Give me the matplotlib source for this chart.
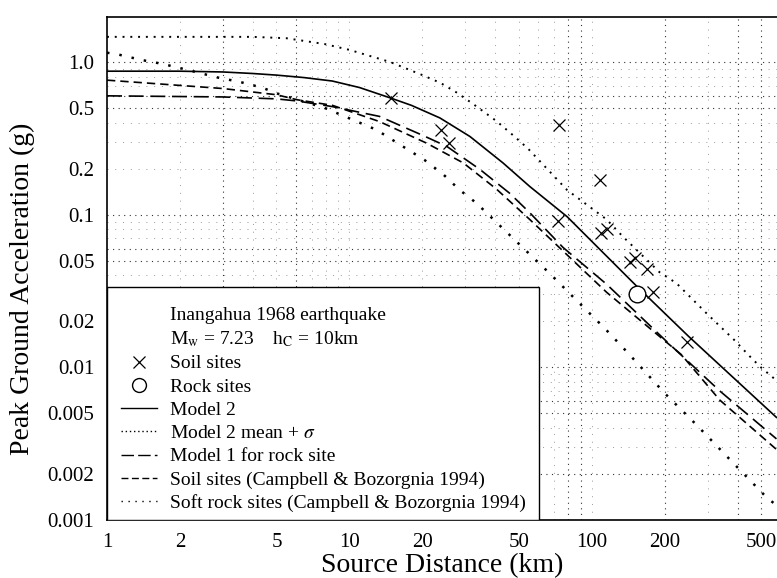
import numpy as np
import matplotlib.pyplot as plt
from matplotlib.lines import Line2D
from matplotlib.patches import Rectangle

plt.rcParams['font.family'] = ['Liberation Serif', 'DejaVu Serif']
plt.rcParams['mathtext.fontset'] = 'stix'

# observed PGA, Inangahua 1968
soil_x = [14.9, 23.8, 25.7, 73.3, 108, 72.6, 109, 115.5, 143.5, 150, 168, 178, 246]
soil_y = [0.58, 0.36, 0.295, 0.387, 0.169, 0.091, 0.076, 0.08, 0.049, 0.052, 0.044, 0.031, 0.0147]
rock_obs_x = [153]
rock_obs_y = [0.030]

# Model 2
m2_x = [1, 2, 3, 4, 5, 6.5, 8.5, 11, 14.9, 18, 23.6, 31.4, 43, 55.4, 79, 153, 250, 577]
m2_y = [0.87, 0.87, 0.86, 0.84, 0.82, 0.79, 0.75, 0.68, 0.578, 0.52, 0.43, 0.325, 0.218,
        0.153, 0.097, 0.034, 0.0160, 0.0047]

# Model 2 mean + sigma
sig_x = [1, 4, 5.5, 7.9, 10, 14.7, 20, 23.7, 27.7, 32.4, 40.4, 47.4, 54.6, 79, 115, 134,
         190, 223, 296, 385, 448, 494, 577]
sig_y = [1.46, 1.46, 1.43, 1.31, 1.2, 1.0, 0.82, 0.73, 0.63, 0.53, 0.41, 0.33, 0.27, 0.145,
         0.093, 0.072, 0.042, 0.0356, 0.0227, 0.0152, 0.0118, 0.0101, 0.0082]

# Model 1, rock site
m1_x = [1, 3, 5, 6.1, 8.5, 13.3, 20.1, 25.2, 34.5, 45.8, 55.4, 76, 115, 203, 337, 577]
m1_y = [0.60, 0.59, 0.573, 0.555, 0.51, 0.44, 0.33, 0.28, 0.198, 0.138, 0.103, 0.061,
        0.035, 0.0148, 0.0070, 0.0034]

# Campbell & Bozorgnia 1994, soil
cbs_x = [1, 3, 5, 6.1, 8.5, 13.3, 20.8, 29.5, 40.4, 55.4, 115, 234, 337, 577]
cbs_y = [0.76, 0.67, 0.61, 0.565, 0.52, 0.407, 0.294, 0.218, 0.147, 0.093, 0.031,
         0.0121, 0.0061, 0.0029]

# Campbell & Bozorgnia 1994, soft rock
cbr_x = [1, 1.11, 1.39, 1.7, 2.13, 2.87, 3.53, 4.35, 5.06, 7.9, 12.9, 17.2, 20.4, 24.5,
         28.5, 33.4, 42.3, 67, 83.5, 113, 141, 199, 270, 389, 527, 577]
cbr_y = [1.15, 1.12, 1.03, 0.97, 0.89, 0.79, 0.74, 0.68, 0.62, 0.50, 0.36, 0.27, 0.228,
         0.182, 0.145, 0.119, 0.083, 0.0412, 0.029, 0.018, 0.0124, 0.0068, 0.0042, 0.0023,
         0.0014, 0.00125]

xticks = [1, 2, 5, 10, 20, 50, 100, 200, 500]
xticklabels = ['1', '2', '5', '10', '20', '50', '100', '200', '500']
yticks = [0.001, 0.002, 0.005, 0.01, 0.02, 0.05, 0.1, 0.2, 0.5, 1.0]
yticklabels = ['0.001', '0.002', '0.005', '0.01', '0.02', '0.05', '0.1', '0.2', '0.5', '1.0']

fig = plt.figure(figsize=(7.77, 5.78), dpi=100)
ax = fig.add_axes([0.1377, 0.1003, 0.8623, 0.8703])
ax.set_xscale('log')
ax.set_yscale('log')
ax.set_xlim(1, 580)
ax.set_ylim(0.001, 1.97)

# dotted grid, some lines heavier than others
strong_v = [3, 6, 80, 90, 200, 400, 500]
strong_h = [1.0, 0.6, 0.5, 0.1, 0.06, 0.05, 0.01, 0.006, 0.005, 0.002]
for dec in [1, 10, 100]:
    for m in range(1, 10):
        v = dec * m
        if 1 < v < 580 and v not in strong_v:
            ax.axvline(v, color='0.6', lw=0.7, ls=(0, (1, 7)), zorder=0)
for dec in [0.001, 0.01, 0.1, 1]:
    for m in range(1, 10):
        h = round(dec * m, 4)
        if 0.001 < h < 1.9 and h not in strong_h:
            ax.axhline(h, color='0.6', lw=0.7, ls=(0, (1, 7)), zorder=0)
for v in strong_v:
    ax.axvline(v, color='0.2', lw=0.8, ls=(0, (1, 4)), zorder=0)
for h in strong_h:
    ax.axhline(h, color='0.2', lw=0.8, ls=(0, (1, 4)), zorder=0)

ax.plot(m2_x, m2_y, color='k', lw=1.2)
ax.plot(sig_x, sig_y, color='k', lw=1.4, ls=(0, (1, 3)))
ax.plot(m1_x, m1_y, color='k', lw=1.2, ls=(0, (9, 4)))
ax.plot(cbs_x, cbs_y, color='k', lw=1.2, ls=(0, (5, 3)))
ax.plot(cbr_x, cbr_y, color='k', lw=1.8, ls=(0, (1, 4)))
ax.plot(soil_x, soil_y, ls='none', marker='x', color='k', ms=9, mew=0.9)
ax.plot(rock_obs_x, rock_obs_y, ls='none', marker='o', mfc='white', mec='k', ms=12, mew=1.0)

ax.set_xticks(xticks)
ax.set_xticklabels(xticklabels)
ax.set_yticks(yticks)
ax.set_yticklabels(yticklabels)
ax.minorticks_off()
ax.tick_params(length=0, labelsize=15)
ax.tick_params(axis='x', pad=9)
ax.tick_params(axis='y', pad=9)
ax.spines['right'].set_visible(False)
for s in ['left', 'top', 'bottom']:
    ax.spines[s].set_linewidth(1.2)

ax.set_xlabel('Source Distance (km)', fontsize=20, labelpad=1)
ax.set_ylabel('Peak Ground Acceleration (g)', fontsize=20)
ax.yaxis.set_label_coords(-0.108, 0.46)

# legend box
box = Rectangle((0, 0), 0.645, 0.463, transform=ax.transAxes, facecolor='white',
                edgecolor='k', lw=1.0, zorder=5)
ax.add_patch(box)

blank = Line2D([], [], ls='none')
handles = [
    blank, blank,
    Line2D([], [], ls='none', marker='x', color='k', ms=8, mew=0.9),
    Line2D([], [], ls='none', marker='o', mfc='white', mec='k', ms=10, mew=1.0),
    Line2D([], [], color='k', lw=1.0),
    Line2D([], [], color='k', lw=1.0, ls=(0, (1, 2))),
    Line2D([], [], color='k', lw=1.0, ls=(0, (9, 3))),
    Line2D([], [], color='k', lw=1.0, ls=(0, (5, 2.5))),
    Line2D([], [], color='k', lw=1.0, ls=(0, (1, 4))),
]
labels = [
    'Inangahua 1968 earthquake',
    r'M$_\mathrm{w}$ = 7.23    h$_\mathrm{C}$ = 10km',
    'Soil sites',
    'Rock sites',
    'Model 2',
    r'Model 2 mean + $\sigma$',
    'Model 1 for rock site',
    'Soil sites (Campbell & Bozorgnia 1994)',
    'Soft rock sites (Campbell & Bozorgnia 1994)',
]
leg = ax.legend(handles, labels, loc='upper left', bbox_to_anchor=(0.021, 0.425),
                frameon=False, fontsize=14, handlelength=1.85, handletextpad=0.65,
                labelspacing=0.29, borderpad=0, borderaxespad=0)
leg.set_zorder(6)

fig.savefig('out.png', dpi=100)
